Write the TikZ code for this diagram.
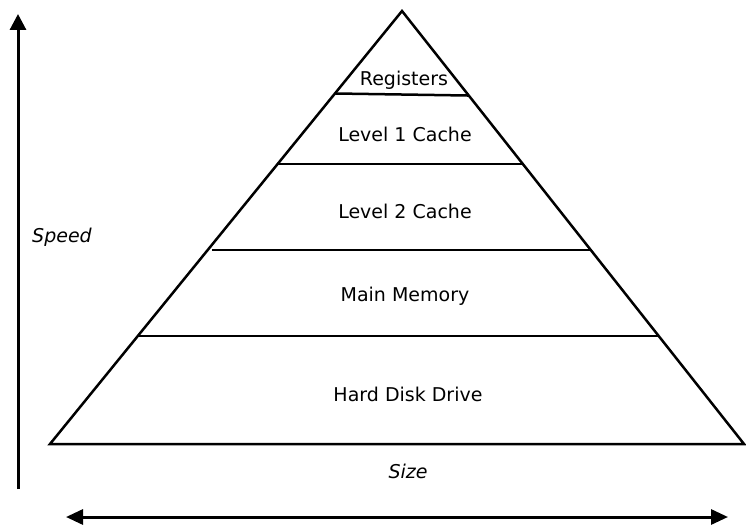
\documentclass[tikz,border=0pt]{standalone}
\usepackage{fontspec}
\setmainfont{DejaVu Sans}
\usetikzlibrary{arrows.meta,calc}
\begin{document}
\begin{tikzpicture}[x=1pt,y=-1pt,
  edge/.style={line width=2.5pt,line join=miter},
  axis/.style={line width=3pt,-{Triangle[length=16pt,width=16pt]}},
  axis2/.style={line width=3pt,{Triangle[length=17pt,width=15pt]}-{Triangle[length=17pt,width=15pt]}},
  layer/.style={font=\fontsize{19}{22}\selectfont},
  axlabel/.style={font=\fontsize{19}{22}\selectfont\itshape}]
\useasboundingbox (0,0) rectangle (746,527);
% pyramid outline
\coordinate (apex) at (402,11);
\coordinate (bl) at (50,444);
\coordinate (br) at (744,444);
\draw[edge] (apex) -- (bl) -- (br) -- cycle;
% layer boundaries
\coordinate (r1) at ($(apex)!0.1905!(bl)$);
\coordinate (r2) at ($(apex)!0.1952!(br)$);
\coordinate (a1) at ($(apex)!0.3533!(bl)$);
\coordinate (a2) at ($(apex)!0.3533!(br)$);
\coordinate (b1) at ($(apex)!0.5520!(bl)+(4.5,0)$);
\coordinate (b2) at ($(apex)!0.5520!(br)$);
\coordinate (c1) at ($(apex)!0.7506!(bl)$);
\coordinate (c2) at ($(apex)!0.7506!(br)$);
\draw[edge] (r1) -- (r2);
\draw[edge] (a1) -- (a2);
\draw[edge] (b1) -- (b2);
\draw[edge] (c1) -- (c2);
% layer names
\node[layer] (reg) at (404,80) {Registers};
\node[layer] (l1) at (405,134) {Level 1 Cache};
\node[layer] (l2) at (405,211) {Level 2 Cache};
\node[layer] (mm) at (405,296) {Main Memory};
\node[layer] (hdd) at (408,394) {Hard Disk Drive};
% axes
\coordinate (sb) at (18,489);
\coordinate (st) at (18,14);
\draw[axis] (sb) -- (st);
\node[axlabel] (speed) at (62,237) {Speed};
\coordinate (zl) at (66,517);
\coordinate (zr) at (728,517);
\draw[axis2] (zl) -- (zr);
\node[axlabel] (size) at (408,471) {Size};
\end{tikzpicture}
\end{document}
